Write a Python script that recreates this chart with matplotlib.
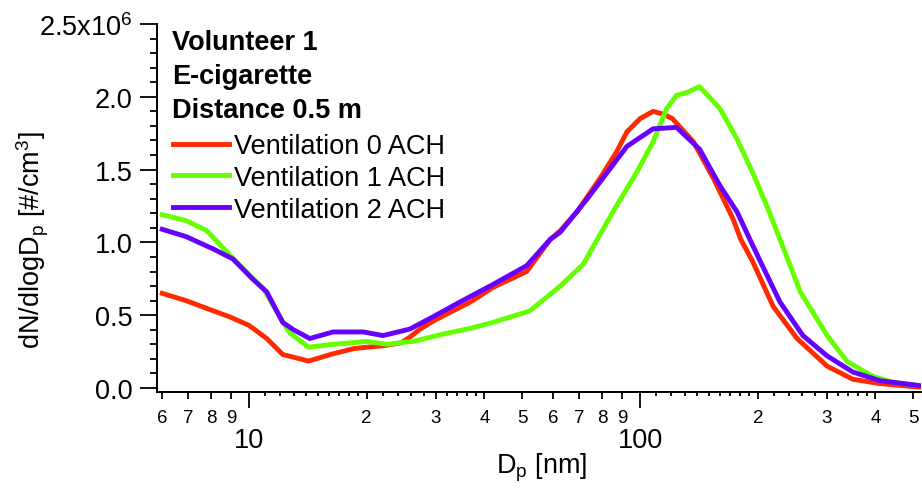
import numpy as np
import matplotlib
matplotlib.use("Agg")
import matplotlib.pyplot as plt
from matplotlib.ticker import FixedLocator, FixedFormatter, NullFormatter, NullLocator

plt.rcParams['font.family'] = ['Liberation Sans', 'DejaVu Sans']
plt.rcParams['mathtext.fontset'] = 'custom'
plt.rcParams['mathtext.rm'] = 'Liberation Sans'
plt.rcParams['mathtext.it'] = 'Liberation Sans'
plt.rcParams['mathtext.bf'] = 'Liberation Sans:bold'

# particle diameter Dp [nm] and dN/dlogDp [x10^6 #/cm3]
d_0ach = [6.0, 6.9, 8.1, 8.9, 10.0, 11.1, 12.2, 14.2, 16.4, 18.5, 20.0, 22.0, 24.5, 25.8, 27.4,
          29.6, 32.7, 36.8, 42.0, 51.3, 58.9, 62.5, 69.0, 79.0, 87.0, 92.6, 100, 108, 115,
          121, 137, 154, 173, 181, 194, 219, 252, 301, 350, 411, 523]
n_0ach = [0.65, 0.60, 0.53, 0.49, 0.43, 0.34, 0.23, 0.185, 0.235, 0.27, 0.28, 0.29, 0.31, 0.35, 0.405,
          0.46, 0.52, 0.59, 0.69, 0.80, 1.02, 1.08, 1.21, 1.44, 1.62, 1.76, 1.85, 1.90, 1.88,
          1.85, 1.69, 1.44, 1.16, 1.02, 0.87, 0.56, 0.34, 0.15, 0.06, 0.03, 0.005]

d_1ach = [6.0, 6.9, 7.8, 9.1, 10.0, 10.9, 11.8, 12.7, 14.2, 16.4, 20.0, 22.5, 26.3, 31.3, 36.8,
          42.0, 52.3, 62.5, 71.6, 77.7, 87.0, 98.0, 108, 117, 124, 132, 142, 160, 177,
          194, 211, 228, 257, 301, 339, 394, 443, 523]
n_1ach = [1.19, 1.15, 1.08, 0.89, 0.78, 0.68, 0.52, 0.38, 0.28, 0.30, 0.32, 0.30, 0.32, 0.37, 0.41,
          0.45, 0.53, 0.70, 0.85, 1.02, 1.25, 1.48, 1.69, 1.92, 2.01, 2.03, 2.07, 1.92, 1.71,
          1.48, 1.25, 1.02, 0.66, 0.36, 0.18, 0.08, 0.04, 0.015]

d_2ach = [6.0, 6.9, 8.1, 9.1, 10.2, 11.1, 12.2, 13.0, 14.3, 16.4, 19.6, 22.0, 25.8, 29.6, 34.6,
          42.0, 51.3, 58.9, 62.5, 73.3, 92.6, 100, 108, 124, 142, 160, 177, 191, 203,
          228, 261, 301, 350, 411, 523]
n_2ach = [1.09, 1.04, 0.955, 0.886, 0.75, 0.66, 0.45, 0.40, 0.34, 0.385, 0.385, 0.36, 0.405, 0.49, 0.59,
          0.71, 0.84, 1.02, 1.07, 1.30, 1.66, 1.72, 1.78, 1.79, 1.64, 1.39, 1.21, 1.02, 0.87,
          0.59, 0.36, 0.22, 0.11, 0.05, 0.015]

header_lines = ["Volunteer 1", "E-cigarette", "Distance 0.5 m"]
labels = ["Ventilation 0 ACH", "Ventilation 1 ACH", "Ventilation 2 ACH"]
colors = ["#ff2a00", "#66ff00", "#6600ff"]

y_ticks = [0.0, 0.5, 1.0, 1.5, 2.0, 2.5]
y_ticklabels = ["0.0", "0.5", "1.0", "1.5", "2.0", "2.5x10$^{6}$"]
y_minor = [0.1, 0.2, 0.3, 0.4, 0.6, 0.7, 0.8, 0.9, 1.1, 1.2, 1.3, 1.4,
           1.6, 1.7, 1.8, 1.9, 2.1, 2.2, 2.3, 2.4]
x_major = [10, 100]
x_major_labels = ["10", "100"]
x_minor = [6, 7, 8, 9, 20, 30, 40, 50, 60, 70, 80, 90, 200, 300, 400, 500]
x_minor_labels = ["6", "7", "8", "9", "2", "3", "4", "5", "6", "7", "8", "9", "2", "3", "4", "5"]
x_sub = [11, 12, 13, 14, 15, 16, 17, 18, 19, 22, 24, 26, 28, 32, 34, 36, 38,
         110, 120, 130, 140, 150, 160, 170, 180, 190, 220, 240, 260, 280, 320, 340, 360, 380]

W, H = 922, 489
fig = plt.figure(figsize=(W / 100, H / 100), dpi=100)
ax = fig.add_axes([157 / W, 96 / H, 764 / W, 368 / H])

lines = []
for d, n, lab, c in zip([d_0ach, d_1ach, d_2ach], [n_0ach, n_1ach, n_2ach], labels, colors):
    ln, = ax.plot(d, n, color=c, lw=3.5, label=lab, solid_joinstyle='round')
    lines.append(ln)

ax.set_xscale('log')
ax.set_xlim(5.817, 523)
ax.set_ylim(-0.0275, 2.5)

for s in ['top', 'right']:
    ax.spines[s].set_visible(False)
for s in ['left', 'bottom']:
    ax.spines[s].set_linewidth(1.4)

# y axis
ax.yaxis.set_major_locator(FixedLocator(y_ticks))
ax.yaxis.set_major_formatter(FixedFormatter(y_ticklabels))
ax.yaxis.set_minor_locator(FixedLocator(y_minor))
ax.tick_params(axis='y', which='major', direction='out', length=12, width=1.3, pad=5.8, labelsize=19.5)
ax.tick_params(axis='y', which='minor', direction='out', length=5, width=1.3)

# x axis: labelled decades, labelled minor ticks, and small unlabelled ones
ax.xaxis.set_major_locator(FixedLocator(x_major))
ax.xaxis.set_major_formatter(FixedFormatter(x_major_labels))
ax.xaxis.set_minor_locator(FixedLocator(x_minor))
ax.xaxis.set_minor_formatter(FixedFormatter(x_minor_labels))
ax.tick_params(axis='x', which='major', direction='out', length=11.5, width=1.3, pad=14, labelsize=19.5)
ax.tick_params(axis='x', which='minor', direction='out', length=5, width=1.3, pad=7, labelsize=13.5)

sec = ax.secondary_xaxis('bottom')
sec.spines['bottom'].set_visible(False)
sec.xaxis.set_major_locator(FixedLocator(x_sub))
sec.xaxis.set_major_formatter(NullFormatter())
sec.xaxis.set_minor_locator(NullLocator())
sec.tick_params(axis='x', which='major', direction='out', length=3, width=1.3)

# axis titles
fig.text(33 / W, 1 - 240 / H, "dN/dlogD$_\\mathrm{p}$ [#/cm$^\\mathrm{3}$]", rotation=90,
         ha='center', va='center', fontsize=19.5)
fig.text(542 / W, 1 - 468 / H, "D$_\\mathrm{p}$ [nm]", ha='center', va='center', fontsize=19.5)

# bold header above the legend
for i, t in enumerate(header_lines):
    fig.text(172 / W, 1 - (50 + 34 * i) / H, t, ha='left', va='baseline',
             fontsize=19.5, fontweight='bold')

ax.legend(handles=lines, loc='upper left', bbox_to_anchor=(173 / W, 1 - 134 / H),
          bbox_transform=fig.transFigure, frameon=False, fontsize=19.5,
          handlelength=2.05, handletextpad=0.2, labelspacing=0.22, borderpad=0, borderaxespad=0)

plt.savefig('out.png', dpi=100)
